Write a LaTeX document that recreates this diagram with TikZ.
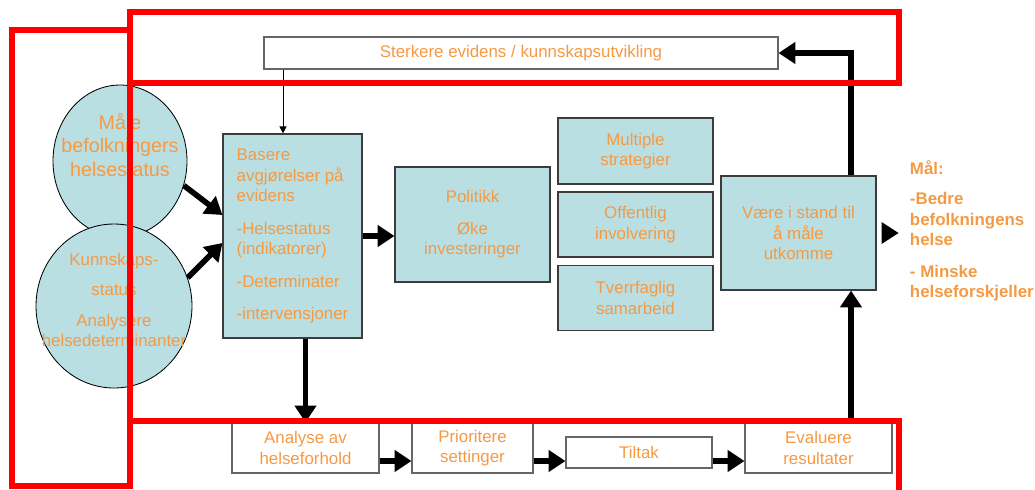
\documentclass[tikz,border=0pt]{standalone}
\usepackage{fontspec}
\setmainfont{Liberation Sans}
\usepackage{xcolor}
\usepackage{tikz}
\usetikzlibrary{calc,shapes.geometric,arrows.meta}
\definecolor{redline}{HTML}{FF0000}
\definecolor{boxfill}{HTML}{B9DFE3}
\definecolor{boxedge}{HTML}{3C3C3C}
\definecolor{whiteedge}{HTML}{666666}
\definecolor{orangetxt}{HTML}{F59A44}
\def\u{0.025cm}
\newcommand\boxfont{\fontsize{12}{14.5}\selectfont}
\tikzset{
  bluebox/.style={draw=boxedge, line width=0.8pt, fill=boxfill, text=orangetxt, font=\boxfont, align=center, inner sep=0pt},
  whitebox/.style={draw=whiteedge, line width=0.8pt, fill=white, text=orangetxt, font=\boxfont, align=center, inner sep=0pt},
  blob/.style={ellipse, draw=black, line width=0.6pt, fill=boxfill, inner sep=0pt},
  lab/.style={text=orangetxt, align=center, font=\boxfont},
  goal/.style={text=orangetxt, align=left, font=\boxfont\bfseries},
  fat/.style={line width=4pt, -{Triangle[length=12pt,width=15pt]}},
  thinarrow/.style={line width=0.7pt, -{Triangle[length=5pt,width=5pt]}},
  redframe/.style={draw=redline, line width=3.6pt}
}

\begin{document}
\begin{tikzpicture}[x=\u, y=-\u]
  \useasboundingbox (0,0) rectangle (1035,489);

  \node[whitebox, minimum width=514*\u, minimum height=32*\u] (evid) at (521,53) {Sterkere evidens / kunnskapsutvikling};

  % the two ellipses, lower one on top
  \node[blob, minimum width=134*\u, minimum height=152*\u] (maale) at (120,161) {};
  \node[lab, font=\fontsize{14}{16.5}\selectfont] (maaletxt) at ($(maale)+(0,-16)$) {Måle\\befolkningers\\helsestatus};
  \node[blob, minimum width=156*\u, minimum height=164*\u] (kunn) at (114,306) {};
  \node[lab] (kunntxt) at ($(kunn)+(0,-6)$) {Kunnskaps-\\[7pt]status\\[7pt]Analysere\\helsedeterminanter};

  \node[bluebox, align=left, minimum width=139*\u, minimum height=204*\u] (basere) at (292.5,236)
    {Basere\\avgjørelser på\\evidens\\[9pt]-Helsestatus\\(indikatorer)\\[9pt]-Determinater\\[8pt]-intervensjoner};
  \node[bluebox, minimum width=155*\u, minimum height=115*\u] (politikk) at (472.5,224.5) {Politikk\\[8pt]Øke\\investeringer};
  \node[bluebox, minimum width=155*\u, minimum height=66*\u] (multi) at (635.5,151) {Multiple\\strategier};
  \node[bluebox, minimum width=155*\u, minimum height=65*\u] (offentlig) at (635.5,224.5) {Offentlig\\involvering};
  \node[bluebox, minimum width=155*\u, minimum height=65*\u] (tverr) at (635.5,298) {Tverrfaglig\\samarbeid};
  \node[bluebox, minimum width=155*\u, minimum height=114*\u] (vaere) at (798.5,233) {Være i stand til\\å måle\\utkomme};

  \node[goal, anchor=west] (maal) at (905,231) {Mål:\\[7pt]-Bedre\\befolkningens\\helse\\[8pt]- Minske\\helseforskjeller};

  \node[whitebox, minimum width=147*\u, minimum height=50*\u] (analyse) at (305.5,448) {Analyse av\\helseforhold};
  \node[whitebox, minimum width=121*\u, minimum height=50*\u] (prio) at (472.5,448) {Prioritere\\settinger};
  \node[whitebox, minimum width=146*\u, minimum height=31*\u] (tiltak) at (639,452.5) {Tiltak};
  \node[whitebox, minimum width=147*\u, minimum height=50*\u] (evaluere) at (818.5,448) {Evaluere\\resultater};

  \coordinate (tx) at (283,0);
  \coordinate (rx) at (851,0);
  \coordinate (by) at (0,461);

  \draw[thinarrow] (evid.south -| tx) -- (basere.north -| tx);
  \draw[fat] (maale.-21) -- ($(basere.west)+(0,-21)$);
  \draw[fat] (kunn.21) -- ($(basere.west)+(0,7)$);
  \draw[fat] (basere.east) -- (politikk.west |- basere.east);
  \draw[fat] (basere.south -| analyse.north) -- (analyse.north);
  \draw[fat] (analyse.east |- by) -- (prio.west |- by);
  \draw[fat] (prio.east |- by) -- (tiltak.west |- by);
  \draw[fat] (tiltak.east |- by) -- (evaluere.west |- by);
  \draw[fat] (evaluere.north -| rx) -- (vaere.south -| rx);
  \draw[fat] (vaere.north -| rx) |- (evid.east);
  \fill ($(vaere.east)+(5,-11)$) -- ++(17,11) -- ++(-17,11) -- cycle;

  \draw[redframe] (12,30) rectangle (130,486);
  \draw[redframe] (130,12) rectangle (899,83);
  \draw[redframe] (130,421) -- (899,421) -- (899,492);
\end{tikzpicture}
\end{document}
